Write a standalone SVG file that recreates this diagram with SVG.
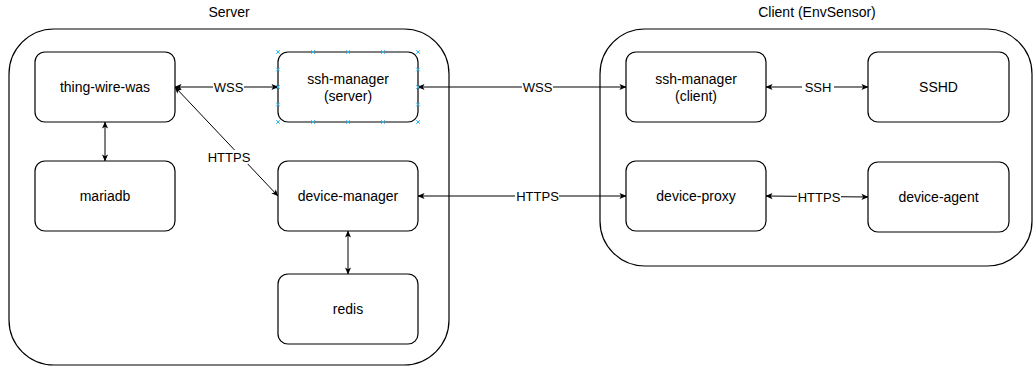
<svg xmlns="http://www.w3.org/2000/svg" width="1034" height="366" viewBox="0 0 1034 366">
  <style>
    .container { fill: #ffffff; stroke: #000000; stroke-width: 1.2; }
    .node rect { fill: #ffffff; stroke: #000000; stroke-width: 1.2; }
    .node text, .title { font-family: "Liberation Sans", Arial, sans-serif; font-size: 14px; fill: #000000; text-anchor: middle; }
    .edge { fill: none; stroke: #000000; stroke-width: 1; marker-start: url(#arrow); marker-end: url(#arrow); }
    .elabel { font-family: "Liberation Sans", Arial, sans-serif; font-size: 13px; fill: #000000; text-anchor: middle; }
    .lbg { fill: #ffffff; }
    .handle { stroke: #29b6f2; stroke-width: 1; }
  </style>
  <defs>
    <marker id="arrow" viewBox="0 0 8 8" refX="7.5" refY="4" markerWidth="7" markerHeight="7" markerUnits="userSpaceOnUse" orient="auto-start-reverse">
      <path d="M0,0.5 L8,4 L0,7.5 L2,4 Z" fill="#000000"/>
    </marker>
    <path id="hx" d="M-1.8,-1.8 L1.8,1.8 M-1.8,1.8 L1.8,-1.8"/>
  </defs>

  <!-- containers -->
  <g id="server">
    <rect class="container" x="9" y="29" width="440" height="336" rx="45" ry="45"/>
    <text class="title" x="229" y="17">Server</text>
  </g>
  <g id="client">
    <rect class="container" x="600" y="29" width="432" height="237" rx="45" ry="45"/>
    <text class="title" x="817" y="17">Client (EnvSensor)</text>
  </g>

  <!-- connectors -->
  <g id="connectors">
    <line class="edge" x1="175" y1="87" x2="278" y2="87"/>
    <line class="edge" x1="175" y1="87" x2="278" y2="196"/>
    <line class="edge" x1="105" y1="122" x2="105" y2="161"/>
    <line class="edge" x1="348" y1="231" x2="348" y2="274"/>
    <line class="edge" x1="418" y1="87" x2="626" y2="87"/>
    <line class="edge" x1="418" y1="196" x2="626" y2="196"/>
    <line class="edge" x1="766" y1="87" x2="868" y2="87"/>
    <line class="edge" x1="766" y1="196" x2="868" y2="197"/>

    <rect class="lbg" x="213" y="80" width="31" height="14"/>
    <text class="elabel" x="228.5" y="91.5">WSS</text>
    <rect class="lbg" x="207" y="150" width="44" height="14"/>
    <text class="elabel" x="229" y="161.5">HTTPS</text>
    <rect class="lbg" x="522" y="80" width="31" height="14"/>
    <text class="elabel" x="537.5" y="91.5">WSS</text>
    <rect class="lbg" x="515" y="189" width="44" height="14"/>
    <text class="elabel" x="537.5" y="200.5">HTTPS</text>
    <rect class="lbg" x="802" y="80" width="32" height="14"/>
    <text class="elabel" x="818" y="91.5">SSH</text>
    <rect class="lbg" x="797" y="190" width="44" height="14"/>
    <text class="elabel" x="819" y="201.5">HTTPS</text>
  </g>

  <!-- nodes -->
  <g id="thing-wire-was" class="node">
    <rect x="35" y="52" width="140" height="70" rx="10" ry="10"/>
    <text x="105" y="92">thing-wire-was</text>
  </g>
  <g id="ssh-manager-server" class="node">
    <rect x="278" y="52" width="140" height="70" rx="10" ry="10"/>
    <text x="348" y="84">ssh-manager</text>
    <text x="348" y="101">(server)</text>
  </g>
  <g id="mariadb" class="node">
    <rect x="35" y="161" width="140" height="70" rx="10" ry="10"/>
    <text x="105" y="201">mariadb</text>
  </g>
  <g id="device-manager" class="node">
    <rect x="278" y="161" width="140" height="70" rx="10" ry="10"/>
    <text x="348" y="201">device-manager</text>
  </g>
  <g id="redis" class="node">
    <rect x="278" y="274" width="140" height="70" rx="10" ry="10"/>
    <text x="348" y="314">redis</text>
  </g>
  <g id="ssh-manager-client" class="node">
    <rect x="626" y="52" width="140" height="70" rx="10" ry="10"/>
    <text x="696" y="84">ssh-manager</text>
    <text x="696" y="101">(client)</text>
  </g>
  <g id="sshd" class="node">
    <rect x="868" y="52" width="141" height="70" rx="10" ry="10"/>
    <text x="938.5" y="92">SSHD</text>
  </g>
  <g id="device-proxy" class="node">
    <rect x="626" y="161" width="140" height="70" rx="10" ry="10"/>
    <text x="696" y="201">device-proxy</text>
  </g>
  <g id="device-agent" class="node">
    <rect x="868" y="162" width="141" height="70" rx="10" ry="10"/>
    <text x="938.5" y="202">device-agent</text>
  </g>

  <!-- connection points on the selected shape -->
  <g id="selection-handles" class="handle">
    <use href="#hx" x="278" y="52"/><use href="#hx" x="313" y="52"/><use href="#hx" x="348" y="52"/><use href="#hx" x="383" y="52"/><use href="#hx" x="418" y="52"/>
    <use href="#hx" x="278" y="122"/><use href="#hx" x="313" y="122"/><use href="#hx" x="348" y="122"/><use href="#hx" x="383" y="122"/><use href="#hx" x="418" y="122"/>
    <use href="#hx" x="278" y="69.5"/><use href="#hx" x="278" y="87"/><use href="#hx" x="278" y="104.5"/>
    <use href="#hx" x="418" y="69.5"/><use href="#hx" x="418" y="87"/><use href="#hx" x="418" y="104.5"/>
  </g>
</svg>
